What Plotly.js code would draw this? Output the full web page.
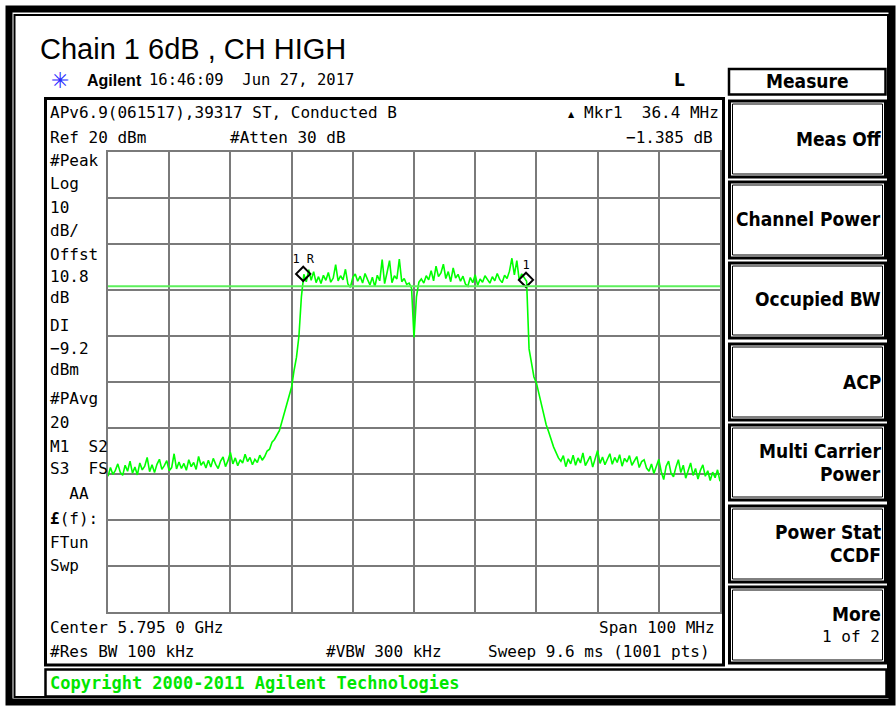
<!DOCTYPE html>
<html>
<head>
<meta charset="utf-8">
<script src="https://cdn.plot.ly/plotly-3.0.1.min.js"></script>
<style>
html,body{margin:0;padding:0;background:#fff;}
#chart{width:896px;height:706px;}
</style>
</head>
<body>
<div id="chart"></div>
<script>
// ---------------- DATA ----------------
const titleText = "Chain 1 6dB , CH HIGH";
const centerGHz = 5.795;
const spanMHz = 100;
const refLevel = 20;      // dBm (top of screen)
const dbPerDiv = 10;
const stepMHz = 0.4;      // spacing of read-off points
const displayLine = -9.2; // dBm

// trace levels (dBm), grouped by region; start offsets in MHz from the left edge
const floorLeftStart = 0.0;
const floorLeft = [-50.5,-48.6,-50.1,-49.2,-47.8,-49.6,-50.3,-48.1,-49.4,-47.2,
 -49.8,-48.5,-50.2,-47.6,-49.1,-48.3,-46.4,-49.5,-48.0,-49.7,
 -47.9,-46.8,-49.0,-48.2,-47.1,-49.3,-48.6,-45.6,-48.9,-47.4,
 -48.8,-47.7,-49.2,-46.9,-48.4,-47.5,-49.0,-46.2,-48.1,-47.3,
 -48.7,-47.0,-48.5,-46.6,-47.9,-48.8,-47.2,-46.3,-48.4,-47.1,
 -45.3,-47.8,-46.5,-48.2,-46.9,-47.6,-45.7,-47.3,-46.4,-48.0,
 -46.8,-47.5,-45.9];
const skirtLeftStart = 25.2;
const skirtLeft = [-47.0,-46.2,-45.0,-44.6,-43.1,-42.5,-41.4,-40.6,-38.7,-36.9,
 -35.2,-33.0,-31.1,-27.5,-24.6,-20.0,-11.5];
const bandLowStart = 32.0;
const bandLow = [-6.6,-8.2,-5.6,-7.9,-6.0,-8.4,-7.1,-8.6,-6.8,-7.9,
 -6.2,-8.3,-7.4,-4.5,-8.0,-6.9,-7.8,-5.5,-8.7,-9.4,
 -7.3,-6.5,-8.1,-7.0,-8.5,-6.4,-7.7,-8.9,-7.2,-9.3,
 -6.8,-8.0,-3.4,-8.6,-6.2,-3.6,-8.4,-6.9,-7.6,-3.3,
 -8.2,-7.5,-8.8,-8.5,-9.6];
const dipStart = 50.0;
const dip = [-20.3];
const bandHighStart = 50.4;
const bandHigh = [-11.5,-8.3,-7.6,-8.5,-6.9,-7.8,-5.8,-8.0,-4.8,-7.1,
 -6.3,-4.4,-7.5,-6.0,-8.2,-5.2,-7.4,-6.6,-8.1,-7.0,
 -8.7,-9.2,-7.3,-8.4,-6.7,-9.0,-7.6,-8.3,-6.9,-7.8,
 -8.5,-7.1,-8.0,-6.4,-7.7,-8.4,-6.8,-7.5,-5.9,-3.1,
 -6.7,-3.6,-7.9,-6.5,-7.2,-8.1];
const skirtRightStart = 68.8;
const skirtRight = [-22.8,-25.6,-28.9,-30.2,-32.6,-34.9,-37.5,-39.3,-40.8,-42.6,
 -44.1,-45.3,-46.5,-47.2,-46.0];
const floorRightStart = 74.8;
const floorRight = [-48.4,-46.7,-47.8,-45.9,-48.1,-46.5,-47.6,-45.4,-48.2,-47.0,
 -46.1,-48.5,-46.8,-44.9,-47.7,-46.3,-48.0,-46.9,-45.6,-47.9,
 -46.4,-47.5,-45.8,-48.3,-46.6,-47.4,-46.0,-48.1,-47.0,-46.2,
 -48.6,-47.3,-46.9,-48.7,-49.4,-47.8,-49.9,-48.2,-46.8,-49.5,
 -51.2,-48.3,-47.2,-49.8,-50.6,-48.5,-46.9,-49.7,-48.1,-50.9,
 -49.0,-47.6,-50.3,-48.8,-51.1,-49.2,-48.0,-50.5,-49.3,-51.4,
 -49.6,-50.8,-49.1,-51.6];

// markers
const markerFreqGHz = [5.7769, 5.8133];
const markerLevel = [-6.5, -7.8];
const markerLabels = ["1 R", "1"];

// ---------------- BUILD ----------------
const startGHz = centerGHz - spanMHz / 2000;
const stopGHz = centerGHz + spanMHz / 2000;
const segments = [
  [floorLeftStart, floorLeft], [skirtLeftStart, skirtLeft], [bandLowStart, bandLow],
  [dipStart, dip], [bandHighStart, bandHigh], [skirtRightStart, skirtRight], [floorRightStart, floorRight]
];
const fx = [], fy = [];
segments.forEach(([s, arr]) => {
  arr.forEach((v, j) => { fx.push(startGHz + (s + j * stepMHz) / 1000); fy.push(v); });
});

// pixel helpers for the instrument-screen decoration
const L = 108, R = 720, T = 152, B = 612;
const px = x => (x - L) / (R - L);
const py = y => (B - y) / (B - T);

const MONO = "DejaVu Sans Mono, Liberation Mono, monospace";
const KEY = "DejaVu Sans Condensed, Liberation Sans Narrow, DejaVu Sans, sans-serif";

function txt(text, x, y, o) {
  o = o || {};
  return {
    text: text, xref: "paper", yref: "paper", x: px(x), y: py(y),
    xanchor: o.anchor || "left", yanchor: "middle", showarrow: false,
    font: { family: o.family || MONO, size: o.size || 16, color: o.color || "#000" }
  };
}
function rect(x0, y0, x1, y1, w, col) {
  return { type: "rect", xref: "paper", yref: "paper", x0: px(x0), x1: px(x1), y0: py(y0), y1: py(y1),
    line: { color: col || "#000", width: w }, fillcolor: "rgba(0,0,0,0)", layer: "above" };
}

const ann = [];
ann.push(txt(titleText, 38, 49, { family: "Liberation Sans, Arial, sans-serif", size: 29 }));
ann.push(txt("✳", 49, 80, { family: "DejaVu Sans", size: 22, color: "#2a2aff" }));
ann.push(txt("<b>Agilent</b>", 85, 80, { family: "Liberation Sans, Arial, sans-serif", size: 16 }));
ann.push(txt("16:46:09  Jun 27, 2017", 147, 80, { size: 15.5 }));
ann.push(txt("<b>L</b>", 672, 80, { family: "DejaVu Sans", size: 17 }));

ann.push(txt("APv6.9(061517),39317 ST, Conducted B", 48, 113));
ann.push(txt("Ref 20 dBm", 48, 137));
ann.push(txt("#Atten 30 dB", 228, 137));
ann.push(txt("▲", 566, 114, { family: "DejaVu Sans", size: 8 }));
ann.push(txt("Mkr1  36.4 MHz", 721, 113, { anchor: "right" }));
ann.push(txt("−1.385 dB", 715, 137, { anchor: "right" }));

const leftLabels = [["#Peak",160],["Log",183],["10",207],["dB/",230],["Offst",254],["10.8",276],["dB",297],
  ["DI",325],["−9.2",348],["dBm",369],["#PAvg",398],["20",422],["M1  S2",446],["S3  FS",468],["  AA",493],
  ["<b>£</b>(f):",518],["FTun",542],["Swp",565]];
leftLabels.forEach(([t, y]) => ann.push(txt(t, 48, y)));

ann.push(txt("Center 5.795 0 GHz", 48, 627));
ann.push(txt("Span 100 MHz", 717, 627, { anchor: "right" }));
ann.push(txt("#Res BW 100 kHz", 48, 651));
ann.push(txt("#VBW 300 kHz", 324, 651));
ann.push(txt("Sweep 9.6 ms (1001 pts)", 712, 651, { anchor: "right" }));
ann.push(txt("<b>Copyright 2000-2011 Agilent Technologies</b>", 48, 683, { color: "#00e600", size: 17 }));

// softkeys
ann.push(txt("<b>Measure</b>", 807, 81, { anchor: "center", family: KEY, size: 19 }));
const keyLabels = [["Meas Off",139],["Channel Power",219],["Occupied BW",299],["ACP",382],
  ["Multi Carrier",451],["Power",474],["Power Stat",532],["CCDF",555],["More",614]];
keyLabels.forEach(([t, y]) => ann.push(txt("<b>" + t + "</b>", 883, y, { anchor: "right", family: KEY, size: 19 })));
ann.push(txt("1 of 2", 882, 636, { anchor: "right", size: 16 }));

const shapes = [];
// outer frames
shapes.push(rect(9, 9, 892, 702, 7));
shapes.push(rect(14.5, 15, 888, 697, 2));
// screen frame
shapes.push(rect(45.5, 98.5, 723.5, 665, 3));
// copyright box
shapes.push(rect(45.5, 669.5, 886.5, 696.5, 2.5));
// measure box
shapes.push(rect(729, 69, 885.5, 94.5, 2.5));
const keys = [[100,177],[181,258],[262,338],[343,420],[424,500],[505,582],[586,663]];
keys.forEach(([a, b]) => {
  shapes.push(rect(729.5, a + 1, 885.5, b, 3));
  shapes.push(rect(732.5, a + 4, 882.5, b - 3, 1));
});
// display line
shapes.push({ type: "line", xref: "x", yref: "y", x0: startGHz, x1: stopGHz, y0: displayLine, y1: displayLine,
  line: { color: "#5cf05c", width: 2 }, layer: "above" });

const data = [
  { x: fx, y: fy, type: "scatter", mode: "lines", line: { color: "#00ff00", width: 1.6 }, hoverinfo: "skip" },
  { x: markerFreqGHz, y: markerLevel, type: "scatter", mode: "markers+text", text: markerLabels,
    textposition: "top center", textfont: { family: MONO, size: 12, color: "#000" },
    marker: { symbol: "diamond-open", size: 11, color: "#000", line: { width: 2, color: "#000" } }, hoverinfo: "skip" }
];

const layout = {
  width: 896, height: 706,
  margin: { l: L, r: 896 - R, t: T, b: 706 - B, pad: 0 },
  paper_bgcolor: "#fff", plot_bgcolor: "#fff",
  showlegend: false,
  xaxis: { range: [startGHz, stopGHz], dtick: spanMHz / 10000, tick0: startGHz, showticklabels: false, ticks: "",
    showgrid: true, gridcolor: "#7a7a7a", gridwidth: 2, zeroline: false,
    showline: true, linecolor: "#7a7a7a", linewidth: 2, mirror: true, fixedrange: true },
  yaxis: { range: [refLevel - 10 * dbPerDiv, refLevel], dtick: dbPerDiv, showticklabels: false, ticks: "",
    showgrid: true, gridcolor: "#7a7a7a", gridwidth: 2, zeroline: false,
    showline: true, linecolor: "#7a7a7a", linewidth: 2, mirror: true, fixedrange: true },
  annotations: ann,
  shapes: shapes
};

Plotly.newPlot("chart", data, layout, { staticPlot: true, displayModeBar: false });
</script>
</body>
</html>
